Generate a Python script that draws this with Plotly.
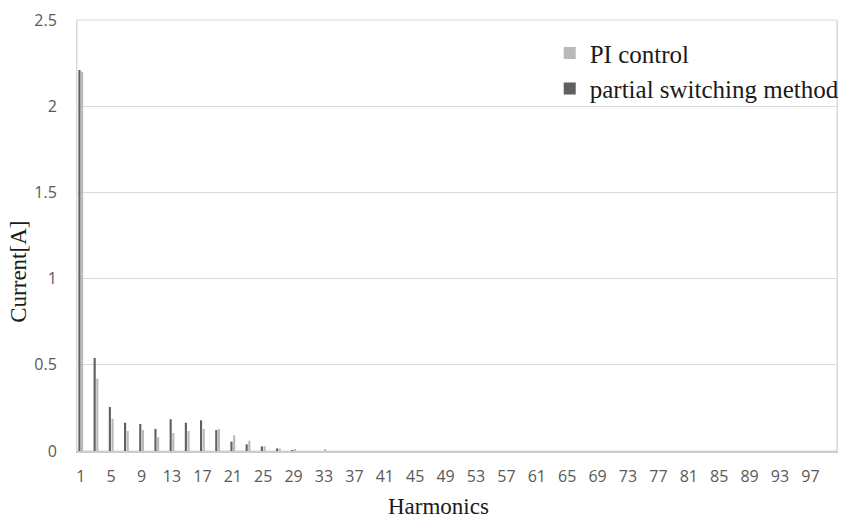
import plotly.graph_objects as go

# Harmonic orders on the x axis
harmonics = list(range(1, 101))

# Harmonic current amplitudes [A], orders 1..100
pi_control = [
    2.20, 0.0, 0.420, 0.0, 0.187, 0.0, 0.116, 0.0, 0.122, 0.0,
    0.080, 0.0, 0.104, 0.0, 0.116, 0.0, 0.128, 0.0, 0.128, 0.0,
    0.091, 0.0, 0.060, 0.0, 0.027, 0.0, 0.014, 0.0, 0.010, 0.0,
    0.0, 0.0, 0.009, 0.0, 0.0, 0.0, 0.0, 0.0, 0.0, 0.0,
    0.0, 0.0, 0.0, 0.0, 0.0, 0.0, 0.0, 0.0, 0.0, 0.0,
    0.0, 0.0, 0.0, 0.0, 0.0, 0.0, 0.0, 0.0, 0.0, 0.0,
    0.0, 0.0, 0.0, 0.0, 0.0, 0.0, 0.0, 0.0, 0.0, 0.0,
    0.0, 0.0, 0.0, 0.0, 0.0, 0.0, 0.0, 0.0, 0.0, 0.0,
    0.0, 0.0, 0.0, 0.0, 0.0, 0.0, 0.0, 0.0, 0.0, 0.0,
    0.0, 0.0, 0.0, 0.0, 0.0, 0.0, 0.0, 0.0, 0.0, 0.0,
]
partial_switching = [
    2.21, 0.0, 0.540, 0.0, 0.255, 0.0, 0.164, 0.0, 0.157, 0.0,
    0.128, 0.0, 0.184, 0.0, 0.164, 0.0, 0.178, 0.0, 0.122, 0.0,
    0.054, 0.0, 0.039, 0.0, 0.027, 0.0, 0.015, 0.0, 0.002, 0.0,
    0.0, 0.0, 0.0, 0.0, 0.0, 0.0, 0.0, 0.0, 0.0, 0.0,
    0.0, 0.0, 0.0, 0.0, 0.0, 0.0, 0.0, 0.0, 0.0, 0.0,
    0.0, 0.0, 0.0, 0.0, 0.0, 0.0, 0.0, 0.0, 0.0, 0.0,
    0.0, 0.0, 0.0, 0.0, 0.0, 0.0, 0.0, 0.0, 0.0, 0.0,
    0.0, 0.0, 0.0, 0.0, 0.0, 0.0, 0.0, 0.0, 0.0, 0.0,
    0.0, 0.0, 0.0, 0.0, 0.0, 0.0, 0.0, 0.0, 0.0, 0.0,
    0.0, 0.0, 0.0, 0.0, 0.0, 0.0, 0.0, 0.0, 0.0, 0.0,
]

x_ticks = list(range(1, 101, 4))
x_tick_text = [str(v) for v in x_ticks]
y_ticks = [0, 0.5, 1, 1.5, 2, 2.5]
y_tick_text = ["0", "0.5", "1", "1.5", "2", "2.5"]

DARK = "#606062"
LIGHT = "#b9b9bb"
GRID = "#d9d9d9"
TICK_FONT = dict(family="Open Sans", size=16, color="#595959")
SERIF = "Liberation Serif"

fig = go.Figure()
fig.add_trace(go.Bar(x=harmonics, y=partial_switching, name="partial switching method",
                     marker=dict(color=DARK, line=dict(width=0))))
fig.add_trace(go.Bar(x=harmonics, y=pi_control, name="PI control",
                     marker=dict(color=LIGHT, line=dict(width=0))))

fig.update_layout(
    width=842, height=524,
    margin=dict(l=77, r=5, t=20, b=73, autoexpand=False),
    paper_bgcolor="white", plot_bgcolor="white",
    barmode="group", bargap=0.3, bargroupgap=0.2,
    showlegend=True,
    legend=dict(
        x=0.622, y=0.976, xanchor="left", yanchor="top",
        traceorder="reversed",
        bgcolor="rgba(0,0,0,0)",
        font=dict(family=SERIF, size=25, color="#1a1a1a"),
        tracegroupgap=0, itemwidth=30,
    ),
    xaxis=dict(
        range=[0.5, 100.5],
        tickmode="array", tickvals=x_ticks, ticktext=x_tick_text,
        tickfont=TICK_FONT, ticks="", ticklabelstandoff=10,
        showgrid=False, zeroline=False,
        showline=True, linecolor="#cccccc", linewidth=1.5, mirror=False,
    ),
    yaxis=dict(
        range=[0, 2.5],
        tickmode="array", tickvals=y_ticks, ticktext=y_tick_text,
        tickfont=TICK_FONT, ticks="", ticklabelstandoff=16,
        showgrid=True, gridcolor=GRID, gridwidth=1, zeroline=False,
        showline=True, linecolor=GRID, linewidth=1, mirror=True,
    ),
    shapes=[
        # light frame around the plotting area
        dict(type="rect", xref="paper", yref="paper", x0=0, y0=0, x1=1, y1=1,
             line=dict(color=GRID, width=1), fillcolor="rgba(0,0,0,0)", layer="below"),
    ],
    annotations=[
        dict(text="Current[A]", xref="paper", yref="paper", x=-0.077, y=0.417,
             xanchor="center", yanchor="middle", textangle=-90, showarrow=False,
             font=dict(family=SERIF, size=23, color="#1a1a1a")),
        dict(text="Harmonics", xref="paper", yref="paper", x=0.475, y=-0.128,
             xanchor="center", yanchor="middle", showarrow=False,
             font=dict(family=SERIF, size=23, color="#1a1a1a")),
    ],
)

fig.write_html("out.html")
